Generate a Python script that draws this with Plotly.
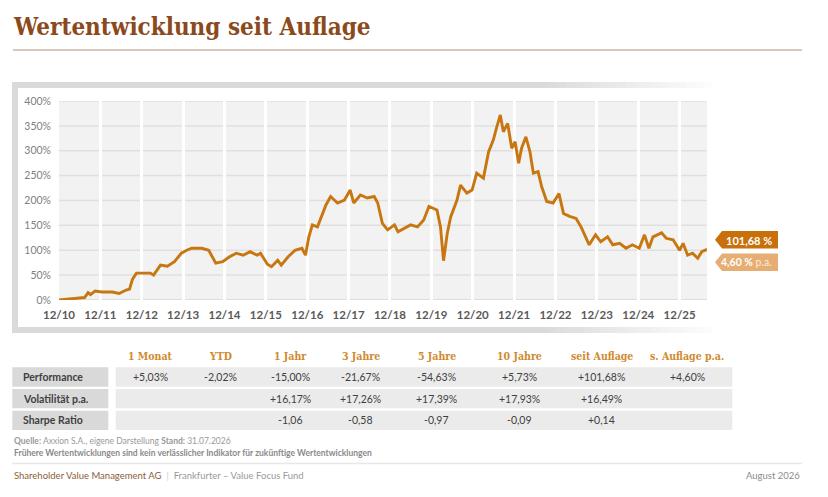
import plotly.graph_objects as go

# ---------------- data ----------------
dates = ["2010-12-01", "2011-03-15", "2011-06-15", "2011-07-15", "2011-08-15", "2011-09-05",
         "2011-10-15", "2011-12-15", "2012-03-15", "2012-05-15", "2012-07-15", "2012-08-15",
         "2012-09-10", "2012-10-15", "2013-02-15", "2013-03-15", "2013-05-15", "2013-07-15",
         "2013-09-15", "2013-11-15", "2014-01-01", "2014-02-15", "2014-05-15", "2014-07-15",
         "2014-09-15", "2014-11-15", "2015-01-15", "2015-03-15", "2015-05-15", "2015-07-15",
         "2015-09-15", "2015-10-15", "2015-12-15", "2016-01-20", "2016-03-15", "2016-04-15",
         "2016-06-15", "2016-08-15", "2016-10-15", "2016-11-15", "2016-12-15", "2017-01-15",
         "2017-03-01", "2017-04-01", "2017-05-15", "2017-06-25", "2017-08-25", "2017-10-25",
         "2017-12-15", "2018-01-15", "2018-03-15", "2018-05-15", "2018-07-15", "2018-08-15",
         "2018-09-25", "2018-11-10", "2019-01-10", "2019-02-10", "2019-04-05", "2019-06-01",
         "2019-08-01", "2019-09-25", "2019-11-10", "2020-01-20", "2020-02-20", "2020-03-18",
         "2020-04-20", "2020-05-20", "2020-07-15", "2020-08-15", "2020-10-10", "2020-11-25",
         "2021-01-05", "2021-03-05", "2021-04-20", "2021-06-01", "2021-07-01", "2021-08-01",
         "2021-08-28", "2021-10-05", "2021-11-10", "2021-12-10", "2022-01-10", "2022-02-05",
         "2022-03-15", "2022-04-20", "2022-05-20", "2022-07-01", "2022-08-01", "2022-09-15",
         "2022-11-10", "2023-01-01", "2023-02-10", "2023-04-05", "2023-06-01", "2023-07-15",
         "2023-09-25", "2023-11-20", "2024-01-05", "2024-03-05", "2024-04-20", "2024-06-20",
         "2024-08-15", "2024-10-10", "2024-12-10", "2025-01-25", "2025-03-05", "2025-04-10",
         "2025-06-25", "2025-08-05", "2025-10-05", "2025-12-01", "2026-01-01", "2026-02-10",
         "2026-03-25", "2026-05-10", "2026-06-15", "2026-07-31"]
values = [0, 2, 3, 5, 15, 11,
          18, 16, 16, 13, 20, 22,
          42, 54, 54, 50, 70, 68,
          77, 94, 100, 104, 104, 100,
          74, 77, 87, 94, 90, 97,
          90, 94, 72, 67, 80, 70,
          87, 100, 104, 90, 127, 151,
          147, 164, 191, 208, 195, 201,
          221, 195, 211, 205, 208, 195,
          154, 141, 151, 137, 144, 151,
          147, 161, 188, 181, 147, 79,
          134, 167, 201, 231, 215, 221,
          255, 245, 298, 322, 348, 372,
          338, 355, 305, 318, 275, 305,
          328, 298, 255, 258, 228, 198,
          195, 214, 174, 168, 164, 147,
          111, 131, 117, 127, 111, 114,
          104, 111, 104, 131, 104, 127,
          135, 124, 121, 100, 114, 90,
          94, 84, 97, 101.68]

year_ticks = [f"{y}-12-01" for y in range(2010, 2026)]
year_labels = [f"12/{str(y)[2:]}" for y in range(2010, 2026)]
y_ticks = [0, 50, 100, 150, 200, 250, 300, 350, 400]
y_labels = [f"{v}%" for v in y_ticks]

total_label = "101,68 %"
pa_label = "4,60 %"

columns = ["1 Monat", "YTD", "1 Jahr", "3 Jahre", "5 Jahre", "10 Jahre", "seit Auflage", "s. Auflage p.a."]
row_names = ["Performance", "Volatilität p.a.", "Sharpe Ratio"]
perf = ["+5,03%", "-2,02%", "-15,00%", "-21,67%", "-54,63%", "+5,73%", "+101,68%", "+4,60%"]
vola = ["", "", "+16,17%", "+17,26%", "+17,39%", "+17,93%", "+16,49%", ""]
sharpe = ["", "", "-1,06", "-0,58", "-0,97", "-0,09", "+0,14", ""]
table_rows = [perf, vola, sharpe]

# ---------------- layout helpers ----------------
# the page body adds an 8px margin, so the figure is 8px smaller and all
# window-pixel positions are shifted by that margin
OFF = 8
W, H = 828 - OFF, 497 - OFF
def px(x):
    return (x - OFF) / W
def py(y):
    return 1 - (y - OFF) / H

PL, PR, PT, PB = 59, 707, 101, 300
LINE_COLOR = "#C8760F"
SANS = "Lato"
SERIF = "DejaVu Serif Condensed"

fig = go.Figure()
fig.add_trace(go.Scatter(x=dates, y=values, mode="lines",
                         line=dict(color=LINE_COLOR, width=2.9),
                         hoverinfo="skip", showlegend=False))

shapes = []
annotations = []

# horizontal grid lines (below the white vertical year grid)
for v in y_ticks[1:]:
    shapes.append(dict(type="line", xref="x domain", yref="y", layer="below",
                       x0=0, x1=1, y0=v, y1=v, line=dict(color="#dfdfdf", width=1.5)))
shapes.append(dict(type="line", xref="x domain", yref="y", layer="below",
                   x0=0, x1=1, y0=0, y1=0, line=dict(color="#d6d6d6", width=1.5)))

# frame (grey band fading to the right)
def band(x0, x1, y0, y1, color):
    shapes.append(dict(type="rect", xref="paper", yref="paper", layer="below",
                       x0=px(x0), x1=px(x1), y0=py(y1), y1=py(y0),
                       fillcolor=color, line=dict(width=0)))

band(12, 18, 82, 333, "#dadada")
n_seg = 20
fade_start, fade_end = 540, 712
band(18, fade_start, 82, 88, "#dadada")
band(18, fade_start, 327, 333, "#dadada")
for i in range(n_seg):
    xa = fade_start + (fade_end - fade_start) * i / n_seg
    xb = fade_start + (fade_end - fade_start) * (i + 1) / n_seg
    g = int(0xda + (0xfd - 0xda) * (i + 0.5) / n_seg)
    c = f"#{g:02x}{g:02x}{g:02x}"
    band(xa, xb + 0.5, 82, 88, c)
    band(xa, xb + 0.5, 327, 333, c)

# title + rule
annotations.append(dict(text="<b>Wertentwicklung seit Auflage</b>", xref="paper", yref="paper",
                        x=px(11), y=py(27), xanchor="left", yanchor="middle", showarrow=False,
                        font=dict(family=SERIF, size=24, color="#8B4A1C")))
shapes.append(dict(type="line", xref="paper", yref="paper", x0=px(13), x1=px(802),
                   y0=py(50), y1=py(50), line=dict(color="#C9B6A4", width=1.6)))

# end labels
def arrow_box(y0, y1, color):
    xt, xb, xr = 715, 722, 778
    ym = (y0 + y1) / 2
    path = (f"M {px(xt)} {py(ym)} L {px(xb)} {py(y0)} L {px(xr)} {py(y0)} "
            f"L {px(xr)} {py(y1)} L {px(xb)} {py(y1)} Z")
    shapes.append(dict(type="path", xref="paper", yref="paper", path=path,
                       fillcolor=color, line=dict(width=0)))

arrow_box(231, 248.5, "#C8700C")
arrow_box(253.5, 271, "#E6AE74")
annotations.append(dict(text=f"<b>{total_label}</b>", xref="paper", yref="paper",
                        x=px(774), y=py(240), xanchor="right", yanchor="middle", showarrow=False,
                        font=dict(family=SANS, size=11, color="white")))
annotations.append(dict(text=f"<b>{pa_label}</b> <span style='color:#FBEBDD'>p.a.</span>",
                        xref="paper", yref="paper",
                        x=px(774), y=py(262.5), xanchor="right", yanchor="middle", showarrow=False,
                        font=dict(family=SANS, size=10.5, color="white")))

# table
col_x = [150.7, 220, 290.5, 360.5, 436.7, 519, 601.7, 687]
row_y = [(367.3, 386.7), (389, 408.3), (410.7, 430)]
for (y0, y1) in row_y:
    shapes.append(dict(type="rect", xref="paper", yref="paper", x0=px(12.3), x1=px(108.3),
                       y0=py(y1), y1=py(y0), fillcolor="#d9d9d9", line=dict(width=0)))
    shapes.append(dict(type="rect", xref="paper", yref="paper", x0=px(115.7), x1=px(732.3),
                       y0=py(y1), y1=py(y0), fillcolor="#ebebeb", line=dict(width=0)))

for cx, name in zip(col_x, columns):
    annotations.append(dict(text=f"<b>{name}</b>", xref="paper", yref="paper", x=px(cx), y=py(356),
                            xanchor="center", yanchor="middle", showarrow=False,
                            font=dict(family=SERIF, size=10.5, color="#D08A2E")))
for (y0, y1), name, vals in zip(row_y, row_names, table_rows):
    ym = (y0 + y1) / 2
    annotations.append(dict(text=f"<b>{name}</b>", xref="paper", yref="paper", x=px(20.5), y=py(ym),
                            xanchor="left", yanchor="middle", showarrow=False,
                            font=dict(family=SANS, size=10.5, color="#404040")))
    for cx, v in zip(col_x, vals):
        if v:
            annotations.append(dict(text=v, xref="paper", yref="paper", x=px(cx), y=py(ym),
                                    xanchor="center", yanchor="middle", showarrow=False,
                                    font=dict(family=SANS, size=10.5, color="#404040")))

# source
annotations.append(dict(text="<b>Quelle:</b> Axxion S.A., eigene Darstellung <b>Stand:</b> 31.07.2026",
                        xref="paper", yref="paper", x=px(11.5), y=py(441), xanchor="left",
                        yanchor="middle", showarrow=False,
                        font=dict(family=SANS, size=8.5, color="#999999")))
annotations.append(dict(text="<b>Frühere Wertentwicklungen sind kein verlässlicher Indikator für zukünftige Wertentwicklungen</b>",
                        xref="paper", yref="paper", x=px(11.5), y=py(452.5), xanchor="left",
                        yanchor="middle", showarrow=False,
                        font=dict(family=SANS, size=8.5, color="#8a8a8a")))

# footer
shapes.append(dict(type="line", xref="paper", yref="paper", x0=px(12), x1=px(802),
                   y0=py(463.5), y1=py(463.5), line=dict(color="#e8e8e8", width=1.5)))
annotations.append(dict(text="<span style='color:#8B5E3C'>Shareholder Value Management AG</span>"
                             "<span style='color:#cccccc'>  |  </span>"
                             "<span style='color:#9a9a9a'>Frankfurter – Value Focus Fund</span>",
                        xref="paper", yref="paper", x=px(11.5), y=py(475), xanchor="left",
                        yanchor="middle", showarrow=False,
                        font=dict(family=SANS, size=9.5, color="#999999")))
annotations.append(dict(text="August 2026", xref="paper", yref="paper", x=px(802), y=py(475),
                        xanchor="right", yanchor="middle", showarrow=False,
                        font=dict(family=SANS, size=9.5, color="#8c8c8c")))

fig.update_layout(
    width=W, height=H, margin=dict(l=0, r=0, t=0, b=0, autoexpand=False),
    paper_bgcolor="white", plot_bgcolor="#f2f2f2",
    shapes=shapes, annotations=annotations, showlegend=False,
    xaxis=dict(type="date", domain=[px(PL), px(PR)], range=["2010-12-01", "2026-07-31"],
               tickmode="array", tickvals=year_ticks, ticktext=year_labels,
               showgrid=True, gridcolor="white", gridwidth=3.2, automargin=False,
               zeroline=False, showline=False, ticks="",
               ticklabelstandoff=6,
               tickfont=dict(family=SANS, size=11.5, color="#595959", weight="bold")),
    yaxis=dict(domain=[py(PB), py(PT)], range=[0, 400], tickmode="array", tickvals=y_ticks,
               ticktext=y_labels, showgrid=False, automargin=False,
               zeroline=False, showline=False, ticks="", ticklabelstandoff=7,
               tickfont=dict(family=SANS, size=10.5, color="#808080")),
)

fig.write_html("out.html")
